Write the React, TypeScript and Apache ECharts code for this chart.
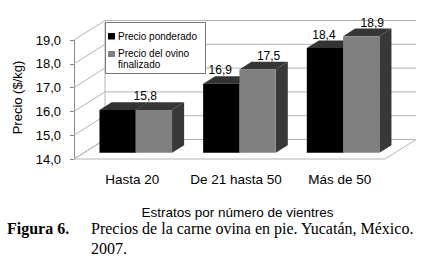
import React, { useEffect, useRef } from "react";
import * as echarts from "echarts";

const categories = ["Hasta 20", "De 21 hasta 50", "Más de 50"];
const seriesNames = ["Precio ponderado", "Precio del ovino\nfinalizado"];
const ponderado = [15.8, 16.9, 18.4];
const finalizado = [15.8, 17.5, 18.9];
const yTicks = [14, 15, 16, 17, 18, 19];
const yAxisTitle = "Precio ($/kg)";
const xAxisTitle = "Estratos por número de vientres";
const captionLabel = "Figura 6.";
const captionLines = ["Precios de la carne ovina en pie. Yucatán, México.", "2007."];

const Y_MIN = 14;
const Y_MAX = 19;
const DX = 31; // depth offset of back wall
const DY = -19.5;
const F0 = 0.32; // depth position of bar front
const DEPTH = 0.39; // bar depth as fraction
const BAR_FRAC = 0.35;
const SANS = "'Liberation Sans', Arial, sans-serif";
const SERIF = "'Liberation Serif', 'Times New Roman', serif";
const GRID_COLOR = "#b4b4b4";
const FRONT = ["#000000", "#808080"];
const TOP = ["#333333", "#363636"];
const SIDE = ["#333333", "#383838"];
const LABEL_DX = [-1, 11];

const fmt = (v: number) => v.toFixed(1).replace(".", ",");

export default function App() {
  const ref = useRef<HTMLDivElement>(null);
  useEffect(() => {
    if (!ref.current) return;
    const chart = echarts.init(ref.current, undefined, { renderer: "svg" });
    const values = [ponderado, finalizado];

    const barSeries = values.map((arr, s) => ({
      type: "custom",
      name: seriesNames[s],
      silent: true,
      z: 3 + s,
      data: arr.map((v, i) => [i, v]),
      renderItem: (params: any, api: any) => {
        const ci = api.value(0);
        const v = api.value(1);
        const [cx, ty] = api.coord([ci, v]);
        const by = api.coord([ci, Y_MIN])[1];
        const band = api.size([1, 0])[0];
        const bw = band * BAR_FRAC;
        const sx = DX * F0;
        const sy = DY * F0;
        const xl = cx - bw + s * bw + sx;
        const xr = xl + bw;
        const yt = ty + sy;
        const yb = by + sy;
        const ddx = DX * DEPTH;
        const ddy = DY * DEPTH;
        const children: any[] = [
          {
            type: "polygon",
            shape: { points: [[xr, yt], [xr + ddx, yt + ddy], [xr + ddx, yb + ddy], [xr, yb]] },
            style: { fill: SIDE[s], stroke: null },
          },
          {
            type: "polygon",
            shape: { points: [[xl, yt], [xr, yt], [xr + ddx, yt + ddy], [xl + ddx, yt + ddy]] },
            style: { fill: TOP[s], stroke: null },
          },
          {
            type: "rect",
            shape: { x: xl, y: yt, width: bw, height: yb - yt },
            style: { fill: FRONT[s], stroke: null },
          },
        ];
        const other = values[1 - s][ci];
        let showLabel = true;
        let lx = xl + bw / 2 + LABEL_DX[s];
        if (other === v) {
          if (s === 0) showLabel = false;
          else lx = xl + 9.5;
        }
        if (showLabel) {
          children.push({
            type: "text",
            x: lx,
            y: yt - 13.5,
            style: {
              text: fmt(v),
              fill: "#000",
              fontSize: 12,
              fontFamily: SANS,
              align: "center",
              verticalAlign: "middle",
              textAlign: "center",
              textVerticalAlign: "middle",
            },
          });
        }
        return { type: "group", children };
      },
    }));

    const wallSeries = {
      type: "custom",
      name: "walls",
      silent: true,
      z: 1,
      data: [[0, Y_MIN]],
      renderItem: (params: any, api: any) => {
        const cs = params.coordSys;
        const x0 = cs.x;
        const x1 = cs.x + cs.width;
        const yb = api.coord([0, Y_MIN])[1];
        const yt = api.coord([0, Y_MAX])[1];
        const children: any[] = [
          {
            type: "polygon",
            shape: { points: [[x0, yb], [x1, yb], [x1 + DX, yb + DY], [x0 + DX, yb + DY]] },
            style: { fill: "#fff", stroke: GRID_COLOR, lineWidth: 1 },
          },
        ];
        yTicks.forEach((t) => {
          const y = api.coord([0, t])[1];
          children.push({
            type: "polyline",
            shape: { points: [[x0, y], [x0 + DX, y + DY], [x1 + DX, y + DY]] },
            style: { stroke: GRID_COLOR, fill: null, lineWidth: 1 },
          });
        });
        children.push({
          type: "line",
          shape: { x1: x0 + DX, y1: yt + DY, x2: x0 + DX, y2: yb + DY },
          style: { stroke: GRID_COLOR, lineWidth: 1 },
        });
        return { type: "group", children };
      },
    };

    chart.setOption({
      animation: false,
      backgroundColor: "#ffffff",
      grid: { left: 74, right: 47, top: 40, bottom: 104, containLabel: false },
      xAxis: {
        type: "category",
        data: categories,
        axisLine: { show: false },
        axisTick: { show: false },
        splitLine: { show: false },
        axisLabel: {
          interval: 0,
          hideOverlap: false,
          color: "#000",
          fontSize: 13.5,
          fontFamily: SANS,
          margin: 13,
          padding: [0, 0, 0, 13],
        },
      },
      yAxis: {
        type: "value",
        min: Y_MIN,
        max: Y_MAX,
        interval: 1,
        splitLine: { show: false },
        axisLine: { show: true, lineStyle: { color: "#8a8a8a", width: 1 } },
        axisTick: { show: true, length: 4, lineStyle: { color: "#8a8a8a" } },
        axisLabel: {
          color: "#000",
          fontSize: 13,
          fontFamily: SANS,
          margin: 13,
          formatter: (v: number) => fmt(v),
        },
      },
      series: [wallSeries, ...barSeries],
      graphic: [
        {
          type: "text",
          x: 17,
          y: 97.5,
          rotation: Math.PI / 2,
          z: 100,
          style: {
            text: yAxisTitle,
            fill: "#000",
            fontSize: 13,
            fontFamily: SANS,
            align: "center",
            verticalAlign: "middle",
          },
        },
        {
          type: "text",
          x: 237.5,
          y: 212,
          z: 100,
          style: {
            text: xAxisTitle,
            fill: "#000",
            fontSize: 13.5,
            fontFamily: SANS,
            align: "center",
            verticalAlign: "middle",
          },
        },
        {
          type: "group",
          z: 100,
          children: [
            {
              type: "rect",
              shape: { x: 105.5, y: 22.5, width: 100, height: 51 },
              style: { fill: "#fff", stroke: "#777", lineWidth: 1 },
              z: 100,
            },
            {
              type: "rect",
              shape: { x: 108, y: 33, width: 7, height: 6.5 },
              style: { fill: FRONT[0] },
              z: 101,
            },
            {
              type: "text",
              x: 118,
              y: 36.5,
              z: 101,
              style: {
                text: seriesNames[0],
                fill: "#000",
                fontSize: 10,
                fontFamily: SANS,
                align: "left",
                verticalAlign: "middle",
              },
            },
            {
              type: "rect",
              shape: { x: 108, y: 51, width: 7, height: 6 },
              style: { fill: FRONT[1] },
              z: 101,
            },
            {
              type: "text",
              x: 118,
              y: 59,
              z: 101,
              style: {
                text: seriesNames[1],
                fill: "#000",
                fontSize: 10,
                lineHeight: 10.5,
                fontFamily: SANS,
                align: "left",
                verticalAlign: "middle",
              },
            },
          ],
        },
        {
          type: "text",
          x: 7,
          y: 228,
          z: 100,
          style: {
            text: captionLabel,
            fill: "#000",
            fontSize: 16,
            fontWeight: "bold",
            fontFamily: SERIF,
            align: "left",
            verticalAlign: "middle",
          },
        },
        ...captionLines.map((line, i) => ({
          type: "text",
          x: 91,
          y: 228 + i * 20,
          z: 100,
          style: {
            text: line,
            fill: "#000",
            fontSize: 16,
            fontFamily: SERIF,
            align: "left",
            verticalAlign: "middle",
          },
        })),
      ],
    });
    return () => chart.dispose();
  }, []);
  return (
    <div
      ref={ref}
      style={{ position: "fixed", left: 0, top: 0, width: 432, height: 263, background: "#fff" }}
    />
  );
}
